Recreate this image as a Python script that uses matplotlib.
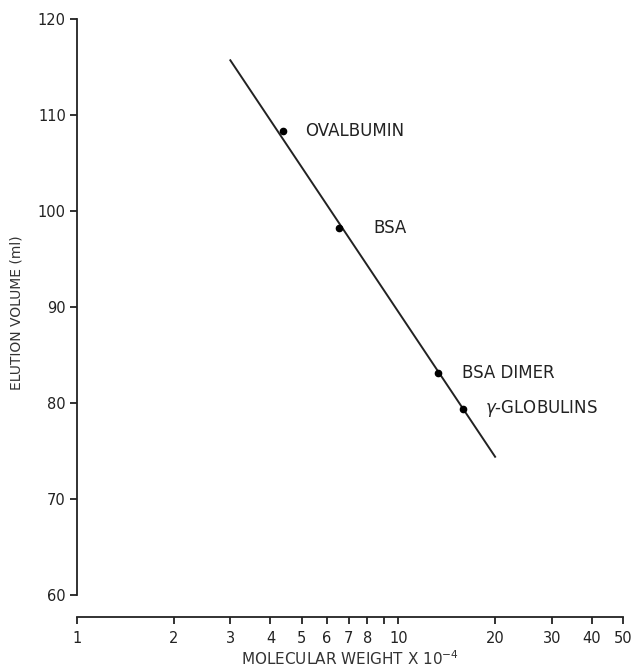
import matplotlib.pyplot as plt
from matplotlib.ticker import FixedLocator, NullLocator
import numpy as np

# Calibration proteins (molecular weight x 10^-4, elution volume in ml)
proteins = ['OVALBUMIN', 'BSA', 'BSA DIMER', r'$\gamma$-GLOBULINS']
mol_weight = [4.38, 6.55, 13.3, 15.9]
elution_ml = [108.3, 98.2, 83.1, 79.4]

# Fitted calibration line end points
fit_mw = [3.0, 20.0]
fit_ml = [115.7, 74.4]

x_ticks = [1, 2, 3, 4, 5, 6, 7, 8, 9, 10, 20, 30, 40, 50]
x_ticklabels = ['1', '2', '3', '4', '5', '6', '7', '8', '', '10', '20', '30', '40', '50']
y_ticks = [60, 70, 80, 90, 100, 110, 120]

fig = plt.figure(figsize=(6.39, 6.67), dpi=100)
ax = fig.add_axes([77/639, 72/667, 546/639, 576/667])

ax.plot(fit_mw, fit_ml, color='#222222', lw=1.4)
ax.plot(mol_weight, elution_ml, 'o', color='black', ms=4.5)

text_dx = [22, 34, 24, 22]
for name, mw, ml, dx in zip(proteins, mol_weight, elution_ml, text_dx):
    ax.annotate(name, (mw, ml), xytext=(dx, 0), textcoords='offset pixels',
                va='center', ha='left', fontsize=12, color='#222222')

ax.set_xscale('log')
ax.set_xlim(1, 50)
ax.set_ylim(60, 120)
ax.xaxis.set_major_locator(FixedLocator(x_ticks))
ax.xaxis.set_minor_locator(NullLocator())
ax.set_xticklabels(x_ticklabels)
ax.set_yticks(y_ticks)

ax.spines['top'].set_visible(False)
ax.spines['right'].set_visible(False)
ax.spines['bottom'].set_position(('outward', 16))
for s in ['left', 'bottom']:
    ax.spines[s].set_linewidth(1.3)
    ax.spines[s].set_color('#222222')

ax.tick_params(axis='both', direction='out', length=5, width=1.3,
               colors='#222222', labelsize=10.5)
ax.tick_params(axis='x', pad=5)
ax.tick_params(axis='y', pad=3)

ax.set_xlabel(r'MOLECULAR WEIGHT X 10$^{-4}$', fontsize=11, color='#333333', labelpad=2)
ax.set_ylabel('ELUTION VOLUME (ml)', fontsize=10, color='#333333')
ax.yaxis.set_label_coords(-0.098, 0.49)

plt.savefig('out.png', dpi=100)
